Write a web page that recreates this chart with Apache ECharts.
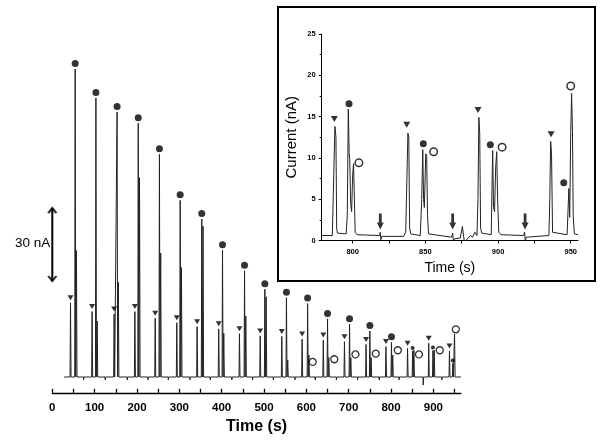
<!DOCTYPE html>
<html>
<head>
<meta charset="utf-8">
<script src="https://cdn.jsdelivr.net/npm/echarts@6/dist/echarts.min.js"></script>
<style>
  html, body { margin: 0; background: #fff; }
  #main { width: 600px; height: 448px; }
</style>
</head>
<body>
<div id="main"></div>
<script>
// main trace: three peaks per injection cycle (time in s, height in nA)
const triT = [43, 94, 146, 195, 243, 294, 342, 393, 442, 491, 542, 590, 640, 690, 741, 788, 839, 889, 938];
const triH = [30.5, 26.9, 25.9, 26.9, 24.2, 22.3, 20.7, 19.8, 17.8, 16.9, 16.7, 15.6, 15.2, 14.5, 13.4, 12.5, 11.8, 13.9, 10.7];
const dotT = [54, 103, 153, 203, 253, 302, 353, 402, 454, 502, 553, 603, 650, 702, 750, 801, 851, 899, 946];
const dotH = [126.7, 114.8, 109, 104.4, 91.6, 72.7, 65, 52.1, 43.7, 36.1, 32.6, 30.2, 23.9, 21.7, 18.9, 14.3, 10.7, 10.9, 5.6];
const circT = [57, 106, 156, 206, 256, 305, 356, 405, 457, 505, 556, 606, 653, 705, 753, 804, 854, 902, 950];
const circH = [52, 23, 39, 82, 51, 45, 62, 18, 25, 33, 7, 9, 8, 8, 8, 9, 11, 11, 17.6];
// open circle labels in the main trace
const openT = [615, 666, 716, 764, 816, 866, 915, 953];
const openV = [6.2, 7.3, 9.3, 9.6, 11, 9.3, 11, 19.6];
// injection artefacts on the baseline
const dipT = [74, 125, 177, 226, 274, 325, 373, 424, 473, 522, 573, 621, 671, 721, 772, 819, 876, 920];
const dipV = [-1.2, -1.2, -1.2, -1.2, -1.2, -1.2, -1.2, -1.2, -1.2, -1.2, -1.2, -1.2, -1.2, -1.2, -1.2, -1.2, -3.3, -1.2];
const mainTicks = [0, 50, 100, 150, 200, 250, 300, 350, 400, 450, 500, 550, 600, 650, 700, 750, 800, 850, 900, 950];
const mainLabels = [0, 100, 200, 300, 400, 500, 600, 700, 800, 900];
const scaleBar = [39.5, 69.5]; // 30 nA

// inset trace (778-955 s)
const insetT = [778.7, 786.0, 787.0, 787.8, 788.5, 789.0, 789.5, 795.5, 796.3, 797.0, 797.6, 798.0, 798.6, 799.3, 800.0, 800.6, 801.2, 801.7, 803.0,
  818.5, 819.0, 819.4, 820.0, 835.0, 836.5, 837.5, 838.0, 838.6, 839.2, 840.0, 846.5, 847.5, 848.2, 848.8, 849.3, 850.3, 850.9, 851.5, 852.2,
  868.0, 868.8, 869.3, 870.0, 874.0, 875.5, 876.3, 877.0, 878.5, 879.5, 881.0, 882.5, 884.0, 885.5, 886.2, 886.8, 887.4, 888.0, 888.8,
  895.3, 896.3, 896.9, 897.6, 898.4, 899.1, 899.7, 900.5, 902.0, 917.5, 918.3, 918.7, 919.4, 935.0, 935.6, 936.2, 936.8, 937.5, 938.5,
  947.5, 948.0, 948.7, 949.3, 950.0, 950.6, 951.2, 951.7, 952.5, 955.0];
const insetI = [0.6, 0.6, 8, 13.8, 12.5, 1.5, 0.9, 0.8, 3, 15.9, 10.5, 9.8, 4.5, 3.5, 8, 9.3, 5, 1, 0.7,
  0.6, 1.0, 0.1, 0.5, 0.5, 1, 9, 13.0, 12.5, 1.5, 0.8, 0.6, 5, 11.0, 5, 4, 10.5, 10.2, 3, 0.8,
  0.4, 0.9, -0.1, 0.2, 0.3, 1.7, 0.5, -0.3, 0.1, 0.0, 0.6, 0.4, 1.0, 0.6, 5, 14.9, 13, 1.5, 0.9,
  0.7, 10.9, 4, 3.5, 9, 10.75, 5, 1, 0.7, 0.6, 1.0, -0.1, 0.4, 0.6, 5, 12.0, 10.5, 1, 0.8,
  0.7, 3, 6.3, 2.8, 13, 17.8, 13.2, 3, 0.8, 0.7];
const inTriT = [787.4, 837.2, 886.2, 936.5];
const inTriV = [14.7, 14.0, 15.8, 12.85];
const inDotT = [797.5, 848.6, 894.7, 945.2];
const inDotV = [16.56, 11.7, 11.6, 7.0];
const inCircT = [804.3, 855.7, 902.8, 950.0];
const inCircV = [9.4, 10.75, 11.3, 18.7];
const arrowT = [819, 868.8, 918.6];
const arrowV = [2.3, 2.3, 2.3];
const insetXTicks = [800, 825, 850, 875, 900, 925, 950];
const insetXLabels = [800, 850, 900, 950];

const FONT = 'Arial, "Liberation Sans", sans-serif';

// build the main trace from the peak lists
const events = [];
function spike(t, h) { events.push([t - 1.1, 0], [t, h], [t + 1.3, 0]); }
triT.forEach((t, i) => spike(t, triH[i]));
dotT.forEach((t, i) => spike(t, dotH[i]));
circT.forEach((t, i) => spike(t, circH[i]));
dipT.forEach((t, i) => events.push([t - 0.4, 0], [t, dipV[i]], [t + 0.6, 0]));
events.push([28, 0], [965, 0]);
events.sort((a, b) => a[0] - b[0]);

const zip = (xs, ys) => xs.map((x, i) => [x, ys[i]]);

const chart = echarts.init(document.getElementById('main'));
chart.setOption({
  animation: false,
  backgroundColor: '#fff',
  grid: [
    { left: 52.3, width: 408.6, top: 61, height: 331.8 },
    { left: 321.7, width: 256.3, top: 34, height: 206.5 }
  ],
  xAxis: [
    {
      gridIndex: 0, type: 'value', min: 0, max: 965,
      axisLine: { onZero: false, lineStyle: { color: '#000', width: 1.3 } },
      axisTick: { inside: true, length: 4, customValues: mainTicks, lineStyle: { color: '#000', width: 1.3 } },
      axisLabel: { customValues: mainLabels, color: '#000', fontFamily: FONT, fontWeight: 'bold', fontSize: 11.5, margin: 9 },
      splitLine: { show: false },
      name: 'Time (s)', nameLocation: 'middle', nameGap: 24,
      nameTextStyle: { color: '#000', fontFamily: FONT, fontWeight: 'bold', fontSize: 16 }
    },
    {
      gridIndex: 1, type: 'value', min: 778.7, max: 955,
      axisLine: { onZero: false, lineStyle: { color: '#000', width: 1 } },
      axisTick: { length: 3, customValues: insetXTicks, lineStyle: { color: '#000' } },
      axisLabel: { customValues: insetXLabels, color: '#000', fontFamily: FONT, fontWeight: 'bold', fontSize: 7.5, margin: 7 },
      splitLine: { show: false },
      name: 'Time (s)', nameLocation: 'middle', nameGap: 21,
      nameTextStyle: { color: '#000', fontFamily: FONT, fontSize: 14 }
    }
  ],
  yAxis: [
    { gridIndex: 0, type: 'value', min: -6.5, max: 130, show: false },
    {
      gridIndex: 1, type: 'value', min: 0, max: 25, interval: 5,
      axisLine: { show: true, lineStyle: { color: '#000', width: 1 } },
      axisTick: { show: true, length: 3, lineStyle: { color: '#000' } },
      minorTick: { show: true, splitNumber: 2, length: 2, lineStyle: { color: '#000' } },
      axisLabel: { color: '#000', fontFamily: FONT, fontWeight: 'bold', fontSize: 7.5, margin: 6 },
      splitLine: { show: false },
      name: 'Current (nA)', nameLocation: 'middle', nameGap: 22,
      nameTextStyle: { color: '#000', fontFamily: FONT, fontSize: 15 }
    }
  ],
  graphic: [
    { type: 'rect', shape: { x: 278, y: 7, width: 317, height: 274 },
      style: { fill: 'transparent', stroke: '#000', lineWidth: 2 } },
    { type: 'text', left: 15, top: 236,
      style: { text: '30 nA', fill: '#000', font: '13.5px ' + FONT } }
  ],
  series: [
    {
      type: 'line', xAxisIndex: 0, yAxisIndex: 0, data: events, showSymbol: false,
      lineStyle: { color: '#222', width: 1 }, z: 2
    },
    {
      type: 'scatter', xAxisIndex: 0, yAxisIndex: 0, data: zip(triT, triH),
      symbol: 'triangle', symbolRotate: 180, symbolSize: [6, 5], symbolOffset: [0, -5],
      itemStyle: { color: '#000' }, z: 3
    },
    {
      type: 'scatter', xAxisIndex: 0, yAxisIndex: 0,
      data: dotT.map((t, i) => i >= 16
        ? { value: [t, dotH[i]], symbolSize: 4, symbolOffset: [0, -3] }
        : { value: [t, dotH[i]] }),
      symbol: 'circle', symbolSize: 7, symbolOffset: [0, -5.5],
      itemStyle: { color: '#000' }, z: 3
    },
    {
      type: 'scatter', xAxisIndex: 0, yAxisIndex: 0, data: zip(openT, openV),
      symbol: 'circle', symbolSize: 7,
      itemStyle: { color: '#fff', borderColor: '#000', borderWidth: 1.3 }, z: 3
    },
    {
      type: 'line', xAxisIndex: 0, yAxisIndex: 0, data: [[0, scaleBar[0]], [0, scaleBar[1]]],
      showSymbol: false, clip: false, lineStyle: { color: '#000', width: 2 }
    },
    {
      type: 'scatter', xAxisIndex: 0, yAxisIndex: 0, clip: false,
      data: [
        { value: [0, scaleBar[1]], symbolOffset: [0, 2.5] },
        { value: [0, scaleBar[0]], symbolRotate: 180, symbolOffset: [0, -2.5] }
      ],
      symbol: 'path://M0,6 L5,0 L10,6', symbolSize: [8, 5],
      itemStyle: { color: 'transparent', borderColor: '#000', borderWidth: 2 }
    },
    {
      type: 'line', xAxisIndex: 1, yAxisIndex: 1, data: zip(insetT, insetI), showSymbol: false,
      lineStyle: { color: '#222', width: 1 }
    },
    {
      type: 'scatter', xAxisIndex: 1, yAxisIndex: 1, data: zip(inTriT, inTriV),
      symbol: 'triangle', symbolRotate: 180, symbolSize: [7, 6], itemStyle: { color: '#000' }
    },
    {
      type: 'scatter', xAxisIndex: 1, yAxisIndex: 1, data: zip(inDotT, inDotV),
      symbol: 'circle', symbolSize: 7, itemStyle: { color: '#000' }
    },
    {
      type: 'scatter', xAxisIndex: 1, yAxisIndex: 1, data: zip(inCircT, inCircV),
      symbol: 'circle', symbolSize: 7.5,
      itemStyle: { color: '#fff', borderColor: '#000', borderWidth: 1.5 }
    },
    {
      type: 'scatter', xAxisIndex: 1, yAxisIndex: 1, data: zip(arrowT, arrowV),
      symbol: 'path://M3,0 L7,0 L7,9 L10,9 L5,16 L0,9 L3,9 Z', symbolSize: [7, 16],
      itemStyle: { color: '#000' }
    }
  ]
});
</script>
</body>
</html>
